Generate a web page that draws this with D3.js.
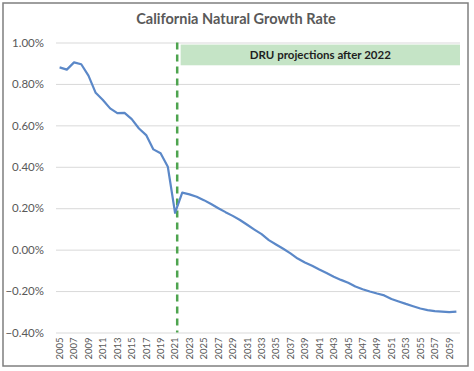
<!DOCTYPE html>
<html>
<head>
<meta charset="utf-8">
<script src="https://cdn.jsdelivr.net/npm/d3@7"></script>
<style>
  body { margin: 0; background: #fff; }
  svg { display: block; font-family: Lato, "Open Sans", sans-serif; }
</style>
</head>
<body>
<div id="chart"></div>
<script>
// data
const years = d3.range(2005, 2061);
const growthRate = [
  0.880, 0.869, 0.904, 0.895, 0.840, 0.757, 0.722, 0.682, 0.659, 0.660,
  0.630, 0.585, 0.553, 0.484, 0.465, 0.400, 0.178, 0.275, 0.267, 0.255,
  0.239, 0.220, 0.200, 0.181, 0.163, 0.143, 0.120, 0.097, 0.075, 0.046,
  0.025, 0.004, -0.018, -0.043, -0.062, -0.078, -0.096, -0.113, -0.131, -0.146,
  -0.160, -0.178, -0.191, -0.202, -0.212, -0.221, -0.238, -0.250, -0.262, -0.273,
  -0.284, -0.292, -0.297, -0.299, -0.302, -0.299
];
const yTicks = [1.0, 0.8, 0.6, 0.4, 0.2, 0.0, -0.2, -0.4];
const xTicks = years.filter((d, i) => i % 2 === 0);
const projectionYear = 2022;
const boxRange = [0.89, 0.99];
const title = "California Natural Growth Rate";
const boxLabel = "DRU projections after 2022";

const W = 474, H = 371;
const margin = { top: 42.5, right: 14, bottom: 38.5, left: 56 };
const width = W - margin.left - margin.right;
const height = H - margin.top - margin.bottom;

const svg = d3.select("#chart").append("svg")
    .attr("width", W)
    .attr("height", H);

// outer frame
svg.append("rect")
    .attr("x", 3).attr("y", 3)
    .attr("width", 465).attr("height", 363)
    .attr("fill", "none")
    .attr("stroke", "#7f7f7f")
    .attr("stroke-width", 1.5);

svg.append("text")
    .attr("x", 236)
    .attr("y", 24)
    .attr("text-anchor", "middle")
    .attr("font-size", "14.5px")
    .attr("font-weight", "bold")
    .attr("fill", "#595959")
    .text(title);

const g = svg.append("g")
    .attr("transform", `translate(${margin.left}, ${margin.top})`);

// scales
const x = d3.scaleBand()
    .domain(years)
    .range([0, width]);

const y = d3.scaleLinear()
    .domain([-0.4, 1.0])
    .range([height, 0]);

// gridlines + y axis
const yAxis = d3.axisLeft(y)
    .tickValues(yTicks)
    .tickSize(-width)
    .tickPadding(12)
    .tickFormat(d => d3.format(".2f")(d) + "%");

g.append("g")
    .call(yAxis)
    .call(a => a.select(".domain").remove())
    .call(a => a.selectAll(".tick line").attr("stroke", "#d9d9d9"))
    .call(a => a.selectAll(".tick text")
        .attr("fill", "#595959")
        .attr("font-size", "11.5px")
        .attr("font-family", "Lato, sans-serif"));

// x axis, rotated labels
const xAxis = d3.axisBottom(x)
    .tickValues(xTicks)
    .tickSize(0)
    .tickPadding(0);

g.append("g")
    .attr("transform", `translate(0, ${height})`)
    .call(xAxis)
    .call(a => a.select(".domain").remove())
    .call(a => a.selectAll(".tick text")
        .attr("transform", "rotate(-90)")
        .attr("x", -5)
        .attr("y", 0)
        .attr("dy", "0.35em")
        .attr("text-anchor", "end")
        .attr("fill", "#595959")
        .attr("font-size", "9.5px")
        .attr("font-family", "Lato, sans-serif"));

// projection box
const boxX = x(projectionYear) + 2;
g.append("rect")
    .attr("x", boxX)
    .attr("y", y(boxRange[1]))
    .attr("width", width - boxX)
    .attr("height", y(boxRange[0]) - y(boxRange[1]))
    .attr("fill", "#c5e4c6");

g.append("text")
    .attr("x", (boxX + width) / 2)
    .attr("y", (y(boxRange[0]) + y(boxRange[1])) / 2)
    .attr("dy", "0.35em")
    .attr("text-anchor", "middle")
    .attr("font-size", "11.5px")
    .attr("font-weight", "bold")
    .attr("fill", "#1f1f1f")
    .text(boxLabel);

// dashed divider
const divX = x(projectionYear) - x.step() * 0.2;
g.append("line")
    .attr("x1", divX).attr("x2", divX)
    .attr("y1", 0).attr("y2", height)
    .attr("stroke", "#4ea44f")
    .attr("stroke-width", 2.5)
    .attr("stroke-dasharray", "7,5");

// series line
const line = d3.line()
    .x((d, i) => x(years[i]) + x.bandwidth() / 2)
    .y(d => y(d));

g.append("path")
    .datum(growthRate)
    .attr("d", line)
    .attr("fill", "none")
    .attr("stroke", "#5b88c8")
    .attr("stroke-width", 2.2)
    .attr("stroke-linejoin", "round");
</script>
</body>
</html>
